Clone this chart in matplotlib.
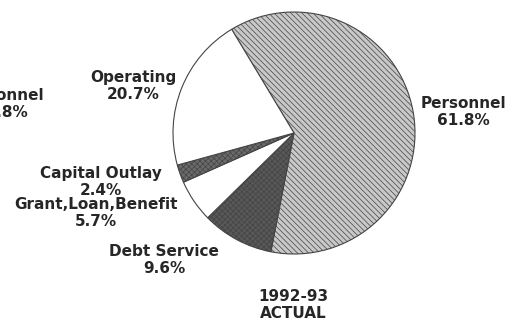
import matplotlib
matplotlib.use("Agg")
import matplotlib.pyplot as plt

categories = ["Personnel", "Debt Service", "Grant,Loan,Benefit", "Capital Outlay", "Operating"]
values = [61.8, 9.6, 5.7, 2.4, 20.7]
pct_labels = ["61.8%", "9.6%", "5.7%", "2.4%", "20.7%"]
title = "1992-93\nACTUAL"
facecolors = ["#c8c8c8", "#585858", "#ffffff", "#6a6a6a", "#ffffff"]
hatches = ["\\\\\\\\\\\\", "xxxxxx", None, "xxxxxx", None]

plt.rcParams['hatch.color'] = '#909090'
plt.rcParams['hatch.linewidth'] = 0.5

fig = plt.figure(figsize=(5.10, 3.23), dpi=100)
fig.patch.set_facecolor("white")
W, H = 510, 323
cx, cy, r = 294, 133, 121
ax = fig.add_axes([(cx - r) / W, (H - cy - r) / H, 2 * r / W, 2 * r / H])
wedges, _ = ax.pie(values, startangle=121, counterclock=False,
                   colors=facecolors,
                   wedgeprops=dict(edgecolor="#444444", linewidth=0.8))
for w, h in zip(wedges, hatches):
    if h:
        w.set_hatch(h)
ax.set_aspect("equal")
ax.set_xlim(-1, 1)
ax.set_ylim(-1, 1)

fkw = dict(fontsize=11, fontweight="bold", color="#262626", ha="center", va="center",
           family="DejaVu Sans", linespacing=1.2)

def ptxt(x, y, s):
    fig.text(x / W, 1 - y / H, s, **fkw)

label_pos = {
    "Personnel": (463, 112),
    "Debt Service": (164, 260),
    "Grant,Loan,Benefit": (96, 213),
    "Capital Outlay": (101, 182),
    "Operating": (133, 86),
}
for cat, p in zip(categories, pct_labels):
    x, y = label_pos[cat]
    ptxt(x, y, cat + "\n" + p)

ptxt(293, 305, title)
# partially visible label from a neighbouring chart at the left edge
ptxt(1, 104, "Personnel\n38.8%")

fig.savefig("out.png", dpi=100, facecolor="white")
